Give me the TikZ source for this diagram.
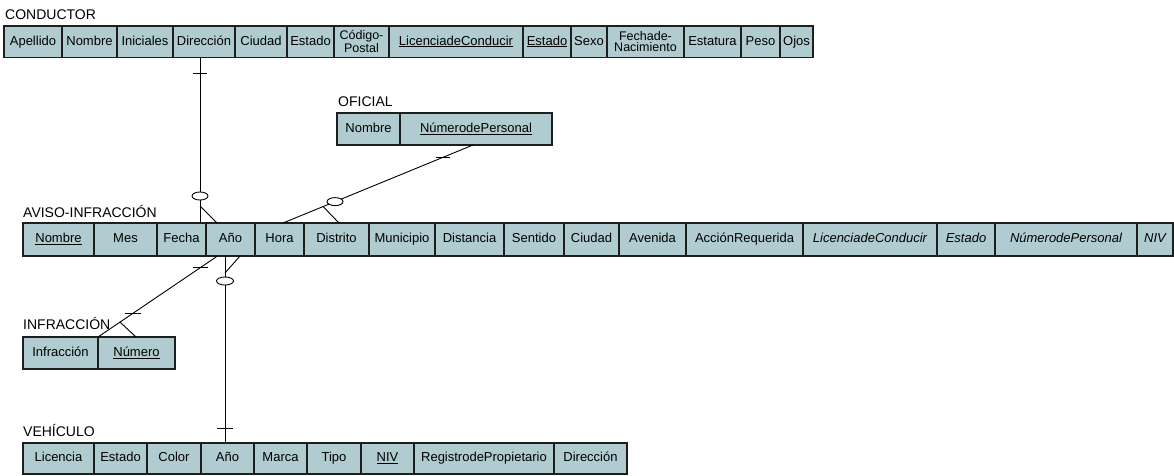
\documentclass[tikz,border=0pt]{standalone}
\usepackage{fontspec}
\setmainfont{Liberation Sans}
\usetikzlibrary{calc}
\definecolor{cellfill}{RGB}{176,204,209}
\definecolor{edge}{RGB}{30,30,30}
\tikzset{
  cell/.style={draw=edge, line width=1.3pt, fill=cellfill, anchor=north west,
    inner sep=0pt, outer sep=0pt, font=\fontsize{13}{15}\selectfont,
    text height=9.4pt, text depth=2.6pt},
  cellx/.style={draw=edge, line width=1.3pt, fill=cellfill, anchor=north west,
    inner sep=0pt, outer sep=0pt, align=center, font=\fontsize{12.5}{10.5}\selectfont},
  lbl/.style={anchor=base west, inner sep=0pt, font=\fontsize{14}{16}\selectfont},
  conn/.style={line width=0.9pt, draw=black},
  optcircle/.style={line width=0.9pt, draw=black, fill=white},
}
\newcommand{\Cell}[7][cell]{\node[#1, minimum width={#4-#3}, minimum height={#6-#5}] (#2) at (#3,#5) {#7};}
\newcommand{\ulx}[1]{\underline{#1}}
\begin{document}
\begin{tikzpicture}[x=1pt,y=-1pt]
\useasboundingbox (0,0) rectangle (1174,475);

% ---------------- CONDUCTOR
\node[lbl] (lCond) at (5,19) {CONDUCTOR};
\Cell{cApe}{4}{62}{26}{57.5}{Apellido}
\Cell{cNom}{62}{117}{26}{57.5}{Nombre}
\Cell{cIni}{117}{173}{26}{57.5}{Iniciales}
\Cell{cDir}{173}{235}{26}{57.5}{Dirección}
\Cell{cCiu}{235}{287}{26}{57.5}{Ciudad}
\Cell{cEst}{287}{334}{26}{57.5}{Estado}
\Cell[cellx]{cCod}{334}{389}{26}{57.5}{Código-\\Postal}
\Cell{cLic}{389}{523}{26}{57.5}{\ulx{LicenciadeConducir}}
\Cell{cEst2}{523}{571}{26}{57.5}{\ulx{Estado}}
\Cell{cSex}{571}{607}{26}{57.5}{Sexo}
\Cell[cellx]{cFec}{607}{684}{26}{57.5}{Fechade-\\Nacimiento}
\Cell{cEsta}{684}{741}{26}{57.5}{Estatura}
\Cell{cPes}{741}{780}{26}{57.5}{Peso}
\Cell{cOjo}{780}{813}{26}{57.5}{Ojos}

% ---------------- OFICIAL
\node[lbl] (lOfi) at (338,106) {OFICIAL};
\Cell{oNom}{337}{400}{113}{145}{Nombre}
\Cell{oNum}{400}{552}{113}{145}{\ulx{NúmerodePersonal}}

% ---------------- AVISO-INFRACCION
\node[lbl] (lAvi) at (23,217) {AVISO-INFRACCIÓN};
\Cell{aNom}{23}{94}{223}{256}{\ulx{Nombre}}
\Cell{aMes}{94}{157}{223}{256}{Mes}
\Cell{aFec}{157}{206}{223}{256}{Fecha}
\Cell{aAnio}{206}{255}{223}{256}{Año}
\Cell{aHora}{255}{304}{223}{256}{Hora}
\Cell{aDis}{304}{369}{223}{256}{Distrito}
\Cell{aMun}{369}{435}{223}{256}{Municipio}
\Cell{aDist}{435}{504}{223}{256}{Distancia}
\Cell{aSen}{504}{564}{223}{256}{Sentido}
\Cell{aCiu}{564}{619}{223}{256}{Ciudad}
\Cell{aAve}{619}{686}{223}{256}{Avenida}
\Cell{aAcc}{686}{803}{223}{256}{AcciónRequerida}
\Cell{aLic}{803}{937}{223}{256}{\itshape LicenciadeConducir}
\Cell{aEst}{937}{995}{223}{256}{\itshape Estado}
\Cell{aNum}{995}{1137}{223}{256}{\itshape NúmerodePersonal}
\Cell{aNiv}{1137}{1173}{223}{256}{\itshape NIV}

% ---------------- INFRACCION
\node[lbl] (lInf) at (23,329) {INFRACCIÓN};
\Cell{iInf}{23}{98}{337}{369}{Infracción}
\Cell{iNum}{98}{175}{337}{369}{\ulx{Número}}

% ---------------- VEHICULO
\node[lbl] (lVeh) at (23,436) {VEHÍCULO};
\Cell{vLic}{23}{94}{443}{474}{Licencia}
\Cell{vEst}{94}{147}{443}{474}{Estado}
\Cell{vCol}{147}{201}{443}{474}{Color}
\Cell{vAnio}{201}{254}{443}{474}{Año}
\Cell{vMar}{254}{307}{443}{474}{Marca}
\Cell{vTip}{307}{361}{443}{474}{Tipo}
\Cell{vNiv}{361}{414}{443}{474}{\ulx{NIV}}
\Cell{vReg}{414}{554}{443}{474}{RegistrodePropietario}
\Cell{vDir}{554}{627}{443}{474}{Dirección}

% ---------------- CONDUCTOR -- AVISO
\coordinate (k1t) at ([xshift=-4pt]cDir.south);
\coordinate (k1b) at (k1t |- aFec.north);
\draw[conn] (k1t) -- (k1b);
\draw[conn] ($(k1t)+(-7,15.5)$) -- ($(k1t)+(7,15.5)$);
\draw[conn] ($(k1b)+(0,-17)$) -- ([xshift=17pt]k1b);
\draw[optcircle] ($(k1b)+(0,-27)$) ellipse [x radius=8pt, y radius=4pt];

% ---------------- OFICIAL -- AVISO
\coordinate (k2t) at ([xshift=-3pt]oNum.south);
\coordinate (k2b) at ([xshift=3.5pt]aHora.north);
\draw[conn] (k2t) -- (k2b);
\coordinate (k2bar) at ($(k2t)!0.158!(k2b)$);
\draw[conn] ([xshift=-7pt]k2bar) -- ([xshift=7pt]k2bar);
\draw[conn] ($(k2t)!0.789!(k2b)$) -- ([xshift=56pt]k2b);
\draw[optcircle] ($(k2t)!0.726!(k2b)$) ellipse [x radius=8pt, y radius=4pt];

% ---------------- AVISO -- INFRACCION
\coordinate (k3t) at ([xshift=-13pt]aAnio.south);
\coordinate (k3b) at (iNum.north west);
\draw[conn] (k3t) -- (k3b);
\coordinate (k3bara) at ($(k3t)!0.146!(k3b)$);
\coordinate (k3barb) at ($(k3t)!0.71!(k3b)$);
\draw[conn] ([xshift=-7.5pt]k3bara) -- ([xshift=7.5pt]k3bara);
\draw[conn] ([xshift=-8pt]k3barb) -- ([xshift=8pt]k3barb);
\draw[conn] ($(k3t)!0.816!(k3b)$) -- ([xshift=38pt]k3b);

% ---------------- AVISO -- VEHICULO
\coordinate (k4t) at ([xshift=-5.5pt]aAnio.south);
\coordinate (k4b) at (k4t |- vAnio.north);
\draw[conn] (k4t) -- (k4b);
\draw[conn] ($(k4t)+(0,17)$) -- ([xshift=15pt]k4t);
\draw[optcircle] ($(k4t)+(0,25)$) ellipse [x radius=8.5pt, y radius=4pt];
\draw[conn] ($(k4b)+(-8,-15)$) -- ($(k4b)+(8,-15)$);
\end{tikzpicture}
\end{document}
